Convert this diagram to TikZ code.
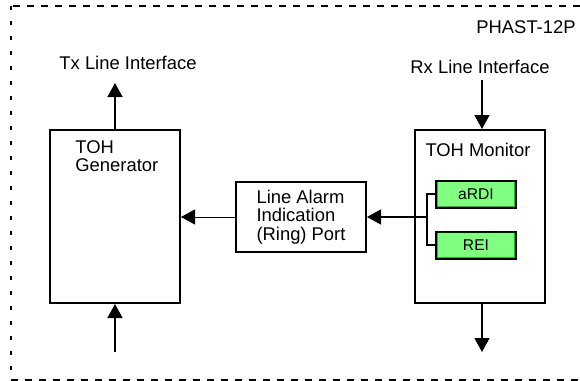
\documentclass[tikz,border=0pt]{standalone}
\usepackage{fontspec}
\setmainfont{Liberation Sans}
\usepackage{tikz}
\usetikzlibrary{arrows.meta}

\definecolor{colorFlag}{HTML}{80FF80}
\definecolor{colorEdge}{HTML}{00D000}
\def\colorFlag{colorFlag}
\def\colorEdge{colorEdge}

\tikzset{
    box/.style = {draw = black , line width = 1pt , minimum width = 65pt , minimum height = 86.5pt , inner sep = 0pt},
    portbox/.style = {draw = black , line width = 1pt , minimum width = 65pt , minimum height = 35pt , inner sep = 0pt , align = left},
    flag/.style = {draw = black , line width = 1pt , fill = \colorFlag , minimum width = 40pt , minimum height = 13.5pt , inner sep = 0pt ,
        font = \fontsize{7.8pt}{9pt}\selectfont ,
        path picture = {\draw[\colorEdge , line width = 1.8pt] (path picture bounding box.south west) rectangle (path picture bounding box.north east);}},
    arr/.style = {line width = 0.7pt , -{Triangle[length = 7pt , width = 7.5pt]}},
    lbl/.style = {draw = none , fill = none , inner sep = 0pt}
}

\begin{document}
\begin{tikzpicture}[x = 0.5pt , y = -0.5pt , font = \fontsize{9.2pt}{9.2pt}\selectfont]

    \useasboundingbox (0,0) rectangle (580,381);

    % Cadre pointille (ouvert a droite)
    \draw[line width = 0.65pt , dash pattern = on 3.5pt off 3.5pt] (580,6) -- (11,6);
    \draw[line width = 0.65pt , dash pattern = on 3.5pt off 3.5pt] (11,380) -- (580,380);
    \draw[line width = 0.65pt , dash pattern = on 2.2pt off 5.3pt] (11,6) -- (11,380);

    \node[lbl , anchor = east] (chip) at (576,27) {PHAST-12P};

    % Blocs
    \node[box] (gen) at (115,216.5) {};
    \node[lbl , anchor = north west , align = left] (gentxt) at (75,140) {TOH\\Generator};

    \node[box] (mon) at (479.5,216.5) {};
    \node[lbl] (montxt) at (478,150) {TOH Monitor};

    \node[portbox] (alarm) at (301,217) {Line Alarm\\Indication\\(Ring) Port};

    \node[flag] (ardi) at (476,194) {aRDI};
    \node[flag] (rei) at (476,245) {REI};

    % Interfaces
    \node[lbl] (tx) at (128,63) {Tx Line Interface};
    \node[lbl] (rx) at (480,67) {Rx Line Interface};

    \coordinate (txend) at (115,83);
    \coordinate (genin) at (115,352);
    \coordinate (rxin) at (482,80);
    \coordinate (monout) at (482,352);
    \coordinate (brk) at (427,217);

    % Fleches
    \draw[arr] (gen.north) -- (txend);
    \draw[arr] (genin) -- (gen.south);
    \draw[arr] (rxin) -- (rxin |- mon.north);
    \draw[arr] (monout |- mon.south) -- (monout);

    \draw[line width = 0.7pt] (ardi.west) -| (brk) |- (rei.west);
    \draw[arr] (brk) -- (alarm.east);
    \draw[arr , line width = 0.5pt] (alarm.west) -- (alarm.west -| gen.east);

\end{tikzpicture}
\end{document}
